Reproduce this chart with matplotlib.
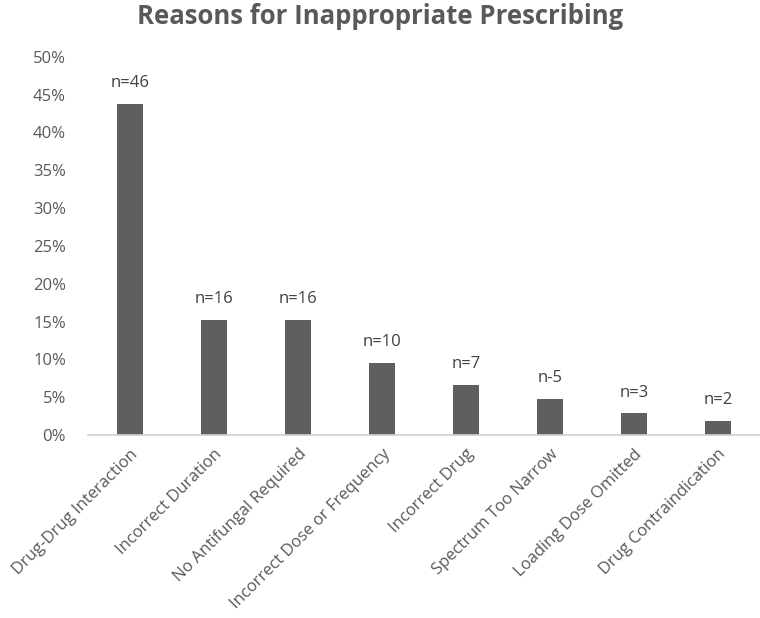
import numpy as np
import matplotlib.pyplot as plt

plt.rcParams['font.family'] = ['Open Sans', 'DejaVu Sans']

categories = ['Drug-Drug Interaction', 'Incorrect Duration', 'No Antifungal Required',
              'Incorrect Dose or Frequency', 'Incorrect Drug', 'Spectrum Too Narrow',
              'Loading Dose Omitted', 'Drug Contraindication']
counts = np.array([46, 16, 16, 10, 7, 5, 3, 2])
bar_labels = ['n=46', 'n=16', 'n=16', 'n=10', 'n=7', 'n-5', 'n=3', 'n=2']
total = 105
shares = counts / total

grey = '#595959'
bar_color = '#5f5f5f'

fig = plt.figure(figsize=(7.6, 6.18), dpi=100)
ax = fig.add_axes([0.116, 0.296, 0.884, 0.612])

x = np.arange(len(categories))
bars = ax.bar(x, shares, width=0.31, color=bar_color, zorder=2)

for xi, v, lab in zip(x, shares, bar_labels):
    ax.text(xi, v + 0.017, lab, ha='center', va='bottom', fontsize=12, color='#404040')

ax.set_xlim(-0.5, len(categories) - 0.5)
ax.set_ylim(0, 0.5)
ax.set_yticks(np.arange(0, 0.51, 0.05))
ax.set_yticklabels([f'{int(round(t * 100))}%' for t in np.arange(0, 0.51, 0.05)],
                   fontsize=12, color=grey)
ax.set_xticks(x)
ax.set_xticklabels(categories, rotation=45, ha='right', rotation_mode='anchor',
                   fontsize=12, color=grey)
ax.tick_params(axis='both', length=0)
ax.tick_params(axis='y', pad=16)
ax.tick_params(axis='x', pad=8)

for s in ['top', 'right', 'left']:
    ax.spines[s].set_visible(False)
ax.spines['bottom'].set_color('#d0d0d0')
ax.spines['bottom'].set_linewidth(1.2)

fig.text(0.5, 0.973, 'Reasons for Inappropriate Prescribing', ha='center', va='center',
         fontsize=18.5, fontweight='bold', color=grey)

fig.savefig('out.png', dpi=100)
